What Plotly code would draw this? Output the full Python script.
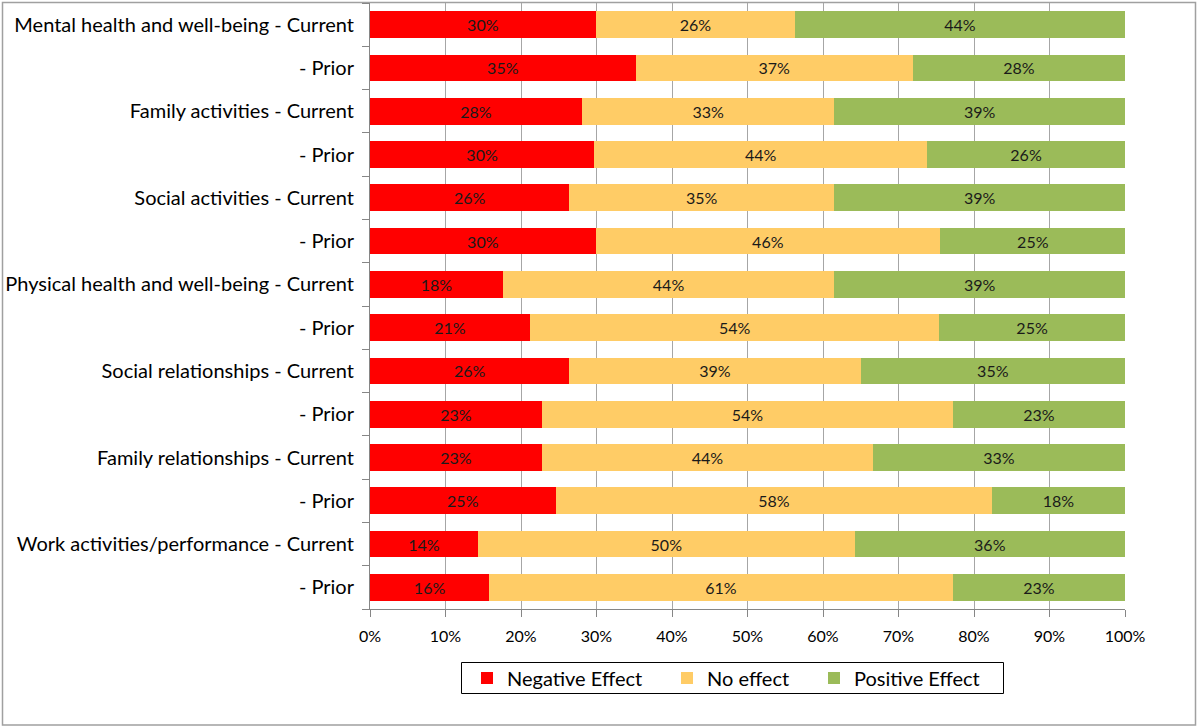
import plotly.graph_objects as go

# Row labels, top to bottom
rows = [
    "Mental health and well-being - Current", "- Prior",
    "Family activities - Current", "- Prior",
    "Social activities - Current", "- Prior",
    "Physical health and well-being - Current", "- Prior",
    "Social relationships - Current", "- Prior",
    "Family relationships - Current", "- Prior",
    "Work activities/performance - Current", "- Prior",
]

# Share of respondents (%) per effect
negative = [29.9, 35.2, 28.1, 29.7, 26.4, 29.9, 17.6, 21.2, 26.4, 22.8, 22.8, 24.6, 14.3, 15.8]
no_effect = [26.4, 36.7, 33.4, 44.1, 35.1, 45.6, 43.9, 54.2, 38.6, 54.4, 43.8, 57.8, 49.9, 61.4]
positive = [43.7, 28.1, 38.5, 26.2, 38.5, 24.6, 38.5, 24.6, 35.0, 22.8, 33.4, 17.6, 35.8, 22.8]

series = [
    ("Negative Effect", negative, "#FF0000"),
    ("No effect", no_effect, "#FFCC66"),
    ("Positive Effect", positive, "#9BBB59"),
]

FONT = "Lato"
pos = list(range(len(rows)))

W, H = 1197, 727
L, R, T, B = 370, 72, 3, 118
pw, ph = W - L - R, H - T - B


def px_x(x):
    return (x - L) / pw


def px_y(y):
    return (H - B - y) / ph


# each series gets its own legend so the entries can be spaced freely
legend_ids = ["legend", "legend2", "legend3"]
legend_left = [467, 667, 814]

fig = go.Figure()
for (name, vals, color), lid in zip(series, legend_ids):
    fig.add_trace(go.Bar(
        y=pos, x=vals, name=name, orientation="h",
        marker=dict(color=color, line=dict(width=0)),
        width=0.62,
        texttemplate="%{x:.0f}%", textposition="inside",
        insidetextanchor="middle",
        textfont=dict(family=FONT, size=16, color="#1a1a1a"),
        hoverinfo="skip",
        legend=lid,
    ))

legend_common = dict(
    orientation="h", xanchor="left", yanchor="middle",
    y=px_y(678), bgcolor="rgba(0,0,0,0)", borderwidth=0,
    font=dict(family=FONT, size=20),
)

fig.update_layout(
    barmode="stack",
    uniformtext=dict(minsize=16, mode="show"),
    width=W, height=H,
    margin=dict(l=L, r=R, t=T, b=B, pad=0, autoexpand=False),
    paper_bgcolor="white", plot_bgcolor="white",
    font=dict(family=FONT, color="#000000"),
    showlegend=True,
    legend=dict(x=px_x(legend_left[0]), **legend_common),
    legend2=dict(x=px_x(legend_left[1]), **legend_common),
    legend3=dict(x=px_x(legend_left[2]), **legend_common),
    xaxis=dict(
        range=[0, 100], dtick=10, ticksuffix="%",
        showgrid=True, gridcolor="#A6A6A6", gridwidth=1,
        showline=True, linecolor="#868686", linewidth=1,
        ticks="outside", ticklen=7, tickcolor="#868686",
        tickfont=dict(family=FONT, size=16),
        ticklabelstandoff=6,
        zeroline=False, fixedrange=True, automargin=False,
    ),
    yaxis=dict(
        range=[len(rows) - 0.5, -0.5],
        tickmode="array", tickvals=pos, ticktext=rows,
        ticks="", showgrid=False, zeroline=False,
        showline=True, linecolor="#868686", linewidth=1,
        tickfont=dict(family=FONT, size=20),
        ticklabelstandoff=11,
        minor=dict(
            tickmode="array",
            tickvals=[i - 0.5 for i in range(len(rows) + 1)],
            ticks="outside", ticklen=7, tickcolor="#868686",
            showgrid=False,
        ),
        fixedrange=True, automargin=False,
    ),
    shapes=[
        # outer chart frame
        dict(
            type="rect", xref="paper", yref="paper",
            x0=px_x(2.5), x1=px_x(1195.5),
            y0=px_y(725), y1=px_y(2.5),
            line=dict(color="#A0A0A0", width=1.5), fillcolor="rgba(0,0,0,0)",
            layer="below",
        ),
        # legend frame
        dict(
            type="rect", xref="paper", yref="paper",
            x0=px_x(461.5), x1=px_x(1003.5),
            y0=px_y(693.5), y1=px_y(662.5),
            line=dict(color="#000000", width=1), fillcolor="rgba(0,0,0,0)",
        ),
    ],
)

fig.write_html("out.html")
